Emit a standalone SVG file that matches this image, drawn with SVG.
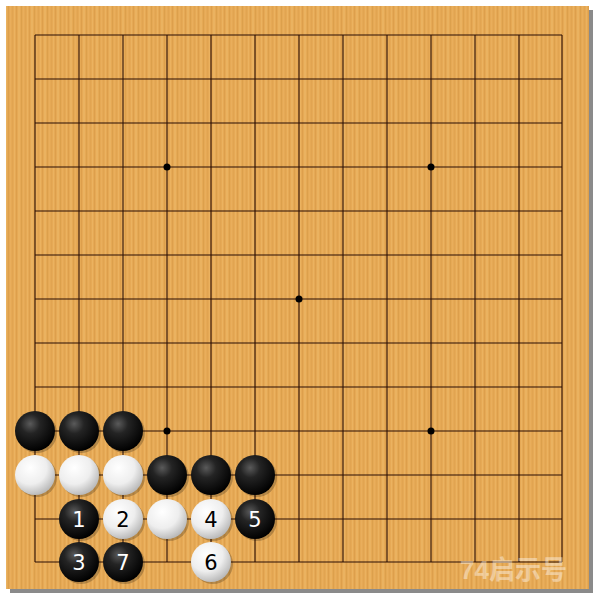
<svg xmlns="http://www.w3.org/2000/svg" width="600" height="600" viewBox="0 0 600 600">
<defs>
<pattern id="wood" x="0" y="0" width="13" height="600" patternUnits="userSpaceOnUse">
<rect width="13" height="600" fill="#E6A955"/>
<rect x="1" width="1" height="600" fill="#ECB463" opacity="0.8"/>
<rect x="3" width="1" height="600" fill="#D99C49" opacity="0.7"/>
<rect x="5" width="2" height="600" fill="#EDB868" opacity="0.6"/>
<rect x="8" width="1" height="600" fill="#D69946" opacity="0.6"/>
<rect x="10" width="1" height="600" fill="#EAB15F" opacity="0.7"/>
<rect x="12" width="1" height="600" fill="#DCA04D" opacity="0.5"/>
</pattern>
<radialGradient id="gBlack" cx="0.38" cy="0.32" r="0.7">
<stop offset="0" stop-color="#5a5a5a"/>
<stop offset="0.35" stop-color="#242424"/>
<stop offset="1" stop-color="#000"/>
</radialGradient>
<radialGradient id="gWhite" cx="0.38" cy="0.32" r="0.75">
<stop offset="0" stop-color="#ffffff"/>
<stop offset="0.55" stop-color="#eeeeee"/>
<stop offset="1" stop-color="#b0b0b0"/>
</radialGradient>
<style>
.grid line{stroke:#2a0e05;stroke-width:1.1}
.star{fill:#000}
.sh{fill:#000;opacity:0.22}
.b{fill:url(#gBlack)}
.w{fill:url(#gWhite)}
.num{font-family:"DejaVu Sans","Liberation Sans",sans-serif;font-size:21px;text-anchor:middle;dominant-baseline:central}
.nb{fill:#fff}
.nw{fill:#000}
</style>
</defs>
<rect x="0" y="0" width="600" height="600" fill="#fff"/>
<rect x="10" y="10" width="583" height="583" fill="#8a8a8a"/>
<rect x="6" y="6" width="583" height="583" fill="url(#wood)"/>
<g id="grid" class="grid">
<line x1="35" y1="35" x2="562" y2="35"/><line x1="35" y1="79" x2="562" y2="79"/><line x1="35" y1="123" x2="562" y2="123"/><line x1="35" y1="167" x2="562" y2="167"/><line x1="35" y1="211" x2="562" y2="211"/><line x1="35" y1="255" x2="562" y2="255"/><line x1="35" y1="299" x2="562" y2="299"/><line x1="35" y1="343" x2="562" y2="343"/><line x1="35" y1="387" x2="562" y2="387"/><line x1="35" y1="431" x2="562" y2="431"/><line x1="35" y1="475" x2="562" y2="475"/><line x1="35" y1="519" x2="562" y2="519"/><line x1="35" y1="562" x2="562" y2="562"/>
<line x1="35" y1="35" x2="35" y2="562"/><line x1="79" y1="35" x2="79" y2="562"/><line x1="123" y1="35" x2="123" y2="562"/><line x1="167" y1="35" x2="167" y2="562"/><line x1="211" y1="35" x2="211" y2="562"/><line x1="255" y1="35" x2="255" y2="562"/><line x1="299" y1="35" x2="299" y2="562"/><line x1="343" y1="35" x2="343" y2="562"/><line x1="387" y1="35" x2="387" y2="562"/><line x1="431" y1="35" x2="431" y2="562"/><line x1="475" y1="35" x2="475" y2="562"/><line x1="519" y1="35" x2="519" y2="562"/><line x1="562" y1="35" x2="562" y2="562"/>
</g>
<g id="stars">
<circle class="star" cx="167" cy="167" r="3.5"/><circle class="star" cx="431" cy="167" r="3.5"/><circle class="star" cx="299" cy="299" r="3.5"/><circle class="star" cx="167" cy="431" r="3.5"/><circle class="star" cx="431" cy="431" r="3.5"/>
</g>
<g id="shadows">
<circle class="sh" cx="37" cy="433" r="20"/><circle class="sh" cx="81" cy="433" r="20"/><circle class="sh" cx="125" cy="433" r="20"/>
<circle class="sh" cx="37" cy="477" r="20"/><circle class="sh" cx="81" cy="477" r="20"/><circle class="sh" cx="125" cy="477" r="20"/><circle class="sh" cx="169" cy="477" r="20"/><circle class="sh" cx="213" cy="477" r="20"/><circle class="sh" cx="257" cy="477" r="20"/>
<circle class="sh" cx="81" cy="521" r="20"/><circle class="sh" cx="125" cy="521" r="20"/><circle class="sh" cx="169" cy="521" r="20"/><circle class="sh" cx="213" cy="521" r="20"/><circle class="sh" cx="257" cy="521" r="20"/>
<circle class="sh" cx="81" cy="564" r="20"/><circle class="sh" cx="125" cy="564" r="20"/><circle class="sh" cx="213" cy="564" r="20"/>
</g>
<g id="b1"><circle class="b" cx="35" cy="431" r="20"/></g>
<g id="b2"><circle class="b" cx="79" cy="431" r="20"/></g>
<g id="b3"><circle class="b" cx="123" cy="431" r="20"/></g>
<g id="w1"><circle class="w" cx="35" cy="475" r="20"/></g>
<g id="w2"><circle class="w" cx="79" cy="475" r="20"/></g>
<g id="w3"><circle class="w" cx="123" cy="475" r="20"/></g>
<g id="b4"><circle class="b" cx="167" cy="475" r="20"/></g>
<g id="b5"><circle class="b" cx="211" cy="475" r="20"/></g>
<g id="b6"><circle class="b" cx="255" cy="475" r="20"/></g>
<g id="m1"><circle class="b" cx="79" cy="519" r="20"/><text class="num nb" x="79" y="520">1</text></g>
<g id="m2"><circle class="w" cx="123" cy="519" r="20"/><text class="num nw" x="123" y="520">2</text></g>
<g id="w4"><circle class="w" cx="167" cy="519" r="20"/></g>
<g id="m4"><circle class="w" cx="211" cy="519" r="20"/><text class="num nw" x="211" y="520">4</text></g>
<g id="m5"><circle class="b" cx="255" cy="519" r="20"/><text class="num nb" x="255" y="520">5</text></g>
<g id="m3"><circle class="b" cx="79" cy="562" r="20"/><text class="num nb" x="79" y="563">3</text></g>
<g id="m7"><circle class="b" cx="123" cy="562" r="20"/><text class="num nb" x="123" y="563">7</text></g>
<g id="m6"><circle class="w" cx="211" cy="562" r="20"/><text class="num nw" x="211" y="563">6</text></g>
<text x="460" y="579" font-family="'Liberation Sans','Noto Sans CJK SC',sans-serif" font-size="26" font-weight="bold" fill="#fff" opacity="0.4">74启示号</text>
</svg>
